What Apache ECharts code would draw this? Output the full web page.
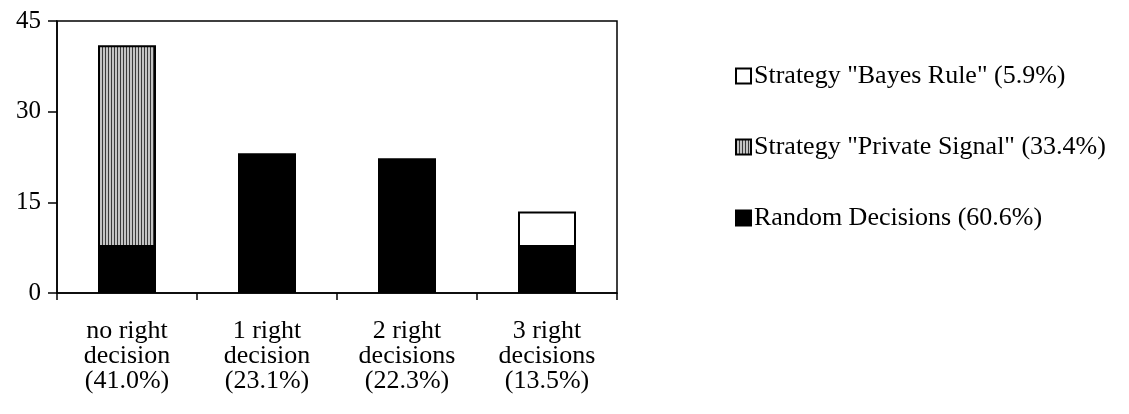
<!DOCTYPE html>
<html>
<head>
<meta charset="utf-8">
<script src="https://cdn.jsdelivr.net/npm/echarts@6/dist/echarts.min.js"></script>
<style>html,body{margin:0;padding:0;background:#fff;}#c{width:1129px;height:414px;}</style>
</head>
<body>
<div id="c"></div>
<script>
const categories = ['no right\ndecision\n(41.0%)', '1 right\ndecision\n(23.1%)', '2 right\ndecisions\n(22.3%)', '3 right\ndecisions\n(13.5%)'];
const randomDecisions = [7.6, 23.1, 22.3, 7.6];
const privateSignal = [33.4, null, null, null];
const bayesRule = [null, null, null, 5.9];
const seriesNames = ['Random Decisions (60.6%)', 'Strategy "Private Signal" (33.4%)', 'Strategy "Bayes Rule" (5.9%)'];
const yTicks = { min: 0, max: 45, interval: 15 };

// vertical stripe pattern
const pc = document.createElement('canvas');
pc.width = 3; pc.height = 3;
const pctx = pc.getContext('2d');
pctx.fillStyle = '#c4c4c4'; pctx.fillRect(0, 0, 3, 3);
pctx.fillStyle = '#3a3a3a'; pctx.fillRect(0, 0, 1, 3);
const stripe = { image: pc, repeat: 'repeat' };

const font = 'Liberation Serif, Times New Roman, serif';
const fs = 26;
const chart = echarts.init(document.getElementById('c'), null, { renderer: 'canvas' });
chart.setOption({
  animation: false,
  backgroundColor: '#fff',
  textStyle: { fontFamily: font, color: '#000' },
  grid: { left: 57, right: 512, top: 21, bottom: 121, show: true, borderColor: '#000', borderWidth: 1.5, backgroundColor: 'transparent' },
  legend: {
    orient: 'vertical', left: 730, top: 58, itemGap: 45,
    itemWidth: 15, itemHeight: 15, icon: 'rect',
    data: [seriesNames[2], seriesNames[1], seriesNames[0]],
    textStyle: { fontFamily: font, fontSize: fs, color: '#000', padding: [0, 0, 0, -2] }
  },
  xAxis: {
    type: 'category', data: categories,
    axisLine: { lineStyle: { color: '#000', width: 1.5 } },
    axisTick: { show: true, length: 7, lineStyle: { color: '#000', width: 1.5 } },
    axisLabel: { fontFamily: font, fontSize: fs, color: '#000', lineHeight: 25, margin: 26, interval: 0 },
    splitLine: { show: false }
  },
  yAxis: {
    type: 'value', min: yTicks.min, max: yTicks.max, interval: yTicks.interval,
    axisLine: { show: true, lineStyle: { color: '#000', width: 1.5 } },
    axisTick: { show: true, length: 9, lineStyle: { color: '#000', width: 1.5 } },
    axisLabel: { fontFamily: font, fontSize: 25, color: '#000', margin: 16 },
    splitLine: { show: false }
  },
  series: [
    { name: seriesNames[0], type: 'bar', stack: 's', data: randomDecisions, barWidth: 58,
      itemStyle: { color: '#000', borderColor: '#000', borderWidth: 1.5 } },
    { name: seriesNames[1], type: 'bar', stack: 's', data: privateSignal, barWidth: 58,
      itemStyle: { color: stripe, borderColor: '#000', borderWidth: 2 } },
    { name: seriesNames[2], type: 'bar', stack: 's', data: bayesRule, barWidth: 58,
      itemStyle: { color: '#fff', borderColor: '#000', borderWidth: 2 } }
  ]
});
</script>
</body>
</html>
